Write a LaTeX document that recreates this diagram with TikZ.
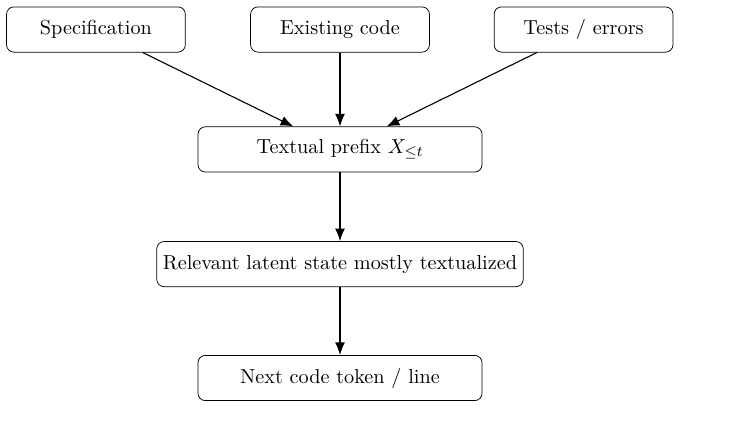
\documentclass[tikz,border=0pt]{standalone}
\usetikzlibrary{arrows.meta}

\begin{document}
\begin{tikzpicture}[font=\fontsize{10.95}{13.6}\selectfont,
  box/.style={draw, rounded corners=4pt, minimum width=3.4cm, minimum height=0.86cm, align=center},
  wide/.style={box, minimum width=5.4cm},
  flow/.style={semithick, -{Latex[length=2.4mm, width=1.9mm]}}]
  \useasboundingbox (-6.464,0.561) rectangle (7.433,-7.671);
  \node[box] (spec) at (-4.64,0) {Specification};
  \node[box] (code) at (0,0) {Existing code};
  \node[box] (tests) at (4.63,0) {Tests / errors};
  \node[wide] (prefix) at (0,-2.28) {Textual prefix $X_{\leq t}$};
  \node[box] (latent) at (0,-4.46) {Relevant latent state mostly textualized};
  \node[wide] (next) at (0,-6.625) {Next code token / line};
  \draw[flow] (spec) -- (prefix);
  \draw[flow] (code) -- (prefix);
  \draw[flow] (tests) -- (prefix);
  \draw[flow] (prefix) -- (latent);
  \draw[flow] (latent) -- (next);
\end{tikzpicture}
\end{document}
